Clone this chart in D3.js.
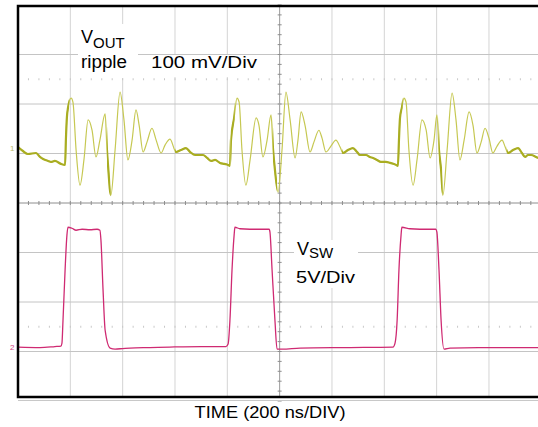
<!DOCTYPE html>
<html>
<head>
<meta charset="utf-8">
<script src="https://cdn.jsdelivr.net/npm/d3@7"></script>
<style>
  body { margin: 0; background: #fff; }
  svg { display: block; font-family: "Liberation Sans", Arial, sans-serif; }
</style>
</head>
<body>
<svg width="538" height="427"></svg>
<script>
// scope settings
var timePerDiv = 200;      // ns
var ch1PerDiv = 100;       // mV
var ch2PerDiv = 5;         // V
var ch1Offset = 1.11;      // divisions above centre
var ch2Offset = -2.91;

// VOUT ripple, [time ns, mV]
var rippleTrace = [
  [0, 2], [19, -6], [38, -12], [69, -10], [84, -18], [96, -22], [115, -26], [126, -28], [141, -26], [164, -32], [180, -34],
  [183, 16], [187, 63], [191, 81], [203, 101], [210, 93], [222, -4], [237, -75], [252, -24], [268, 57], [283, 36],
  [298, -18], [313, 16], [333, 69], [340, -4], [344, -34], [355, -95], [371, -4], [390, 113], [405, 57], [420, -24],
  [436, 16], [451, 77], [463, 46], [478, -8], [493, 12], [512, 40], [528, 16], [547, -10], [562, 6], [581, 18],
  [604, -8], [623, -4], [642, 0], [658, -8], [677, -14], [707, -14], [723, -20], [738, -26], [753, -24], [772, -30],
  [788, -32], [803, -34], [810, -36],
  [814, 16], [826, 61], [837, 101], [845, 93], [856, -4], [871, -75], [887, -24], [910, 61], [921, 46], [936, -18],
  [952, 16], [967, 67], [975, -4], [982, -44], [994, -89], [1009, -4], [1024, 113], [1040, 57], [1059, -20], [1070, 16],
  [1082, 73], [1097, 46], [1116, -8], [1131, 12], [1150, 36], [1162, 20], [1177, -8], [1196, 4], [1215, 16], [1231, 2],
  [1242, -10], [1261, -4], [1280, 0], [1296, -8], [1307, -14], [1330, -14], [1345, -18], [1357, -20], [1372, -24],
  [1387, -28], [1406, -28], [1422, -30], [1445, -34], [1452, -36],
  [1456, 16], [1460, 61], [1467, 81], [1475, 101], [1483, 93], [1494, -4], [1510, -75], [1525, -24], [1544, 57],
  [1560, 36], [1575, -20], [1590, 16], [1601, 67], [1609, -4], [1617, -44], [1624, -95], [1640, -4], [1659, 111],
  [1674, 57], [1689, -24], [1705, 16], [1724, 73], [1739, 46], [1754, -10], [1770, 12], [1785, 40], [1800, 20],
  [1815, -10], [1831, 4], [1850, 16], [1862, 2], [1873, -10], [1892, -4], [1911, 0], [1926, -10], [1938, -18],
  [1949, -14], [1961, -14], [1980, -18], [1988, -20]
];

// time spans where the ripple trace is noisy (drawn thick)
var noisySpans = [[0, 184], [184, 196], [340, 354], [600, 812], [814, 828], [974, 990],
                  [1238, 1455], [1455, 1470], [1608, 1622], [1868, 2000]];

// switch node, [time ns, V]
var swTrace = [
  [0, 0], [84, -0.05], [141, 0.05], [164, 0.1], [168, 0.4], [172, 2.7], [180, 7.8], [187, 11.3], [191, 12.1],
  [206, 12.0], [222, 11.8], [245, 11.9], [275, 11.85], [302, 11.9], [313, 11.8], [317, 10.8], [325, 5.8], [333, 1.7],
  [352, -0.1], [371, -0.2], [400, -0.15], [428, -0.1], [504, -0.05], [580, 0], [700, 0.05], [795, 0.05],
  [803, 0.3], [810, 2.7], [818, 7.8], [826, 11.3], [829, 12.1], [848, 11.95], [886, 11.9], [925, 11.9], [960, 11.9],
  [963, 11.6], [971, 7.8], [982, 2.7], [990, -0.2], [1010, -0.2], [1078, -0.1], [1270, -0.05], [1433, 0],
  [1441, 0.4], [1449, 2.7], [1456, 7.8], [1464, 11.3], [1467, 12.1], [1498, 11.95], [1536, 11.9], [1597, 11.9],
  [1601, 11.6], [1609, 7.8], [1617, 2.7], [1628, -0.2], [1651, -0.1], [1760, -0.05], [1988, -0.05]
];

var svg = d3.select("svg");

var x = d3.scaleLinear().domain([0, 10 * timePerDiv]).range([18, 541.3]);
var y = d3.scaleLinear().domain([-4, 4]).range([401, 5]);

var y1 = function (mv) { return y(ch1Offset + mv / ch1PerDiv); };
var y2 = function (v) { return y(ch2Offset + v / ch2PerDiv); };

// grid
var grid = svg.append("g");
var vTicks = d3.range(1, 10).map(function (i) { return i * timePerDiv; });
grid.selectAll("line.v")
    .data(vTicks)
    .enter().append("line")
    .attr("x1", x).attr("x2", x)
    .attr("y1", 6).attr("y2", 397)
    .attr("stroke", function (d) { return d === 1000 ? "#9a9a9a" : "#d4d4d4"; })
    .attr("stroke-width", 1);

grid.selectAll("line.h")
    .data(d3.range(-3, 4))
    .enter().append("line")
    .attr("x1", 18).attr("x2", 538)
    .attr("y1", y).attr("y2", y)
    .attr("stroke", function (d) { return d === 0 ? "#8e8e8e" : "#c4c4c4"; })
    .attr("stroke-width", 1);

// dotted sub-division rows
var minor = d3.range(1, 50).map(function (i) { return i * timePerDiv / 5; });
[2.5, -2.5].forEach(function (row) {
  grid.append("g").selectAll("line")
      .data(minor)
      .enter().append("line")
      .attr("x1", x).attr("x2", x)
      .attr("y1", y(row) - 1).attr("y2", y(row) + 1)
      .attr("stroke", "#c8c8c8");
});

// ticks on the centre cross
grid.append("g").selectAll("line")
    .data(minor)
    .enter().append("line")
    .attr("x1", x).attr("x2", x)
    .attr("y1", y(0) - 2).attr("y2", y(0) + 2)
    .attr("stroke", "#8e8e8e");
grid.append("g").selectAll("line")
    .data(d3.range(-20, 21).map(function (i) { return i / 5; }))
    .enter().append("line")
    .attr("x1", x(1000) - 2).attr("x2", x(1000) + 2)
    .attr("y1", y).attr("y2", y)
    .attr("stroke", "#8e8e8e");

// label backgrounds
svg.append("rect").attr("x", 78).attr("y", 24).attr("width", 60).attr("height", 54).attr("fill", "#fff");
svg.append("rect").attr("x", 146).attr("y", 55).attr("width", 114).attr("height", 22).attr("fill", "#fff");
svg.append("rect").attr("x", 294).attr("y", 240).attr("width", 64).attr("height", 48).attr("fill", "#fff");

// traces
var ripple = d3.line()
    .x(function (d) { return x(d[0]); })
    .y(function (d) { return y1(d[1]); })
    .curve(d3.curveMonotoneX);

var sw = d3.line()
    .x(function (d) { return x(d[0]); })
    .y(function (d) { return y2(d[1]); })
    .curve(d3.curveMonotoneX);

svg.append("path")
    .attr("d", ripple(rippleTrace))
    .attr("fill", "none")
    .attr("stroke", "#c6c852")
    .attr("stroke-width", 1.2);

var clip = svg.append("clipPath").attr("id", "noisy");
clip.selectAll("rect")
    .data(noisySpans)
    .enter().append("rect")
    .attr("x", function (d) { return x(d[0]); })
    .attr("width", function (d) { return x(d[1]) - x(d[0]); })
    .attr("y", 0).attr("height", 427);

svg.append("path")
    .attr("d", ripple(rippleTrace))
    .attr("clip-path", "url(#noisy)")
    .attr("fill", "none")
    .attr("stroke", "#a9ad22")
    .attr("stroke-width", 2.2);

svg.append("path")
    .attr("d", sw(swTrace))
    .attr("fill", "none")
    .attr("stroke", "#cf2a72")
    .attr("stroke-width", 1.3);

// channel markers
svg.append("text").attr("x", 10).attr("y", y1(0) + 3)
    .attr("font-size", 8).attr("fill", "#b9bb6a").text("1");
svg.append("text").attr("x", 10).attr("y", y2(0) + 3)
    .attr("font-size", 8).attr("fill", "#d0457f").text("2");

// frame
svg.append("path")
    .attr("d", "M538,6H18V397H538")
    .attr("fill", "none")
    .attr("stroke", "#000")
    .attr("stroke-width", 2.5);
svg.append("line")
    .attr("x1", 18).attr("x2", 538).attr("y1", 400.5).attr("y2", 400.5)
    .attr("stroke", "#c8c8c8");

// labels
var t1 = svg.append("text").attr("x", 81).attr("y", 43).attr("font-size", 18);
t1.append("tspan").text("V");
t1.append("tspan").attr("font-size", 15).attr("dy", 5).text("OUT");
svg.append("text").attr("x", 81).attr("y", 68).attr("font-size", 18)
    .attr("textLength", 46).attr("lengthAdjust", "spacingAndGlyphs").text("ripple");
svg.append("text").attr("x", 151).attr("y", 68).attr("font-size", 17)
    .attr("textLength", 106).attr("lengthAdjust", "spacingAndGlyphs").text("100 mV/Div");

var t2 = svg.append("text").attr("x", 297).attr("y", 255).attr("font-size", 18);
t2.append("tspan").text("V");
t2.append("tspan").attr("font-size", 15).attr("dy", 3).text("SW");
svg.append("text").attr("x", 296).attr("y", 283).attr("font-size", 17)
    .attr("textLength", 59).attr("lengthAdjust", "spacingAndGlyphs").text("5V/Div");

svg.append("text").attr("x", 270).attr("y", 418).attr("font-size", 17)
    .attr("textLength", 151).attr("lengthAdjust", "spacingAndGlyphs")
    .attr("text-anchor", "middle").text("TIME (200 ns/DIV)");
</script>
</body>
</html>
